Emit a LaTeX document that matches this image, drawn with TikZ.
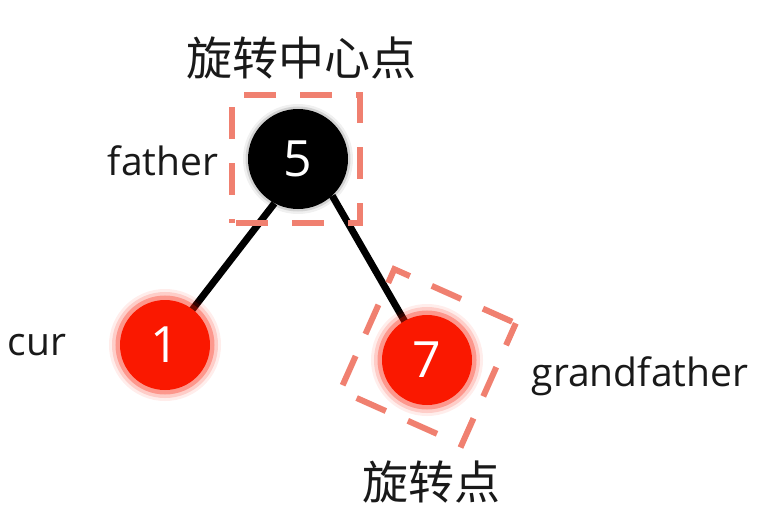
\documentclass[tikz,border=0pt]{standalone}
\usepackage{fontspec}
\setmainfont{Open Sans}
\newfontfamily\cjk{Noto Sans CJK SC}
\usetikzlibrary{backgrounds}
\definecolor{nodered}{RGB}{250,24,0}
\definecolor{dashc}{RGB}{240,128,112}
\definecolor{textc}{RGB}{25,25,25}
\begin{document}
\begin{tikzpicture}[x=1pt,y=-1pt,
  numfont/.style={font=\fontsize{50}{50}\selectfont},
  rednode/.style={circle, fill=nodered, minimum size=90pt, inner sep=0pt, text=white, numfont,
    preaction={draw=nodered, opacity=0.08, line width=22pt},
    preaction={draw=nodered, opacity=0.15, line width=16pt},
    preaction={draw=nodered, opacity=0.3, line width=9pt}},
  blacknode/.style={circle, fill=black, minimum size=100pt, inner sep=0pt, text=white, numfont,
    preaction={draw=black, opacity=0.06, line width=10pt},
    preaction={draw=black, opacity=0.12, line width=5pt}},
  edgeline/.style={draw=black, line width=7pt},
  hilite/.style={draw=dashc, line width=6pt, dash pattern=on 32pt off 24pt, inner sep=0pt},
  cjklabel/.style={font=\cjk\fontsize{46}{50}\selectfont, text=textc},
  enlabel/.style={font=\fontsize{39}{42}\selectfont, anchor=base, text=textc}
]
\useasboundingbox (0,0) rectangle (770,519);
\node[blacknode] (n5) at (298,159) {5};
\node[rednode] (n1) at (165,345) {1};
\node[rednode] (n7) at (427,360) {7};
\begin{pgfonlayer}{background}
\draw[edgeline] (n1.center) -- (n5.-118);
\draw[edgeline] (n7.center) -- (n5.-47);
\end{pgfonlayer}
\node[hilite, minimum size=128pt, dash phase=-4pt] (sq5) at (296,159) {};
\node[hilite, minimum size=133pt, rotate=-24, dash phase=-4pt] (sq7) at (428,357) {};
\node[cjklabel] (t1) at (301,58) {旋转中心点};
\node[cjklabel] (t2) at (431,482) {旋转点};
\node[enlabel] (t3) at (163,175) {father};
\node[enlabel] (t4) at (37,355) {cur};
\node[enlabel] (t5) at (640,386) {grandfather};
\end{tikzpicture}
\end{document}
